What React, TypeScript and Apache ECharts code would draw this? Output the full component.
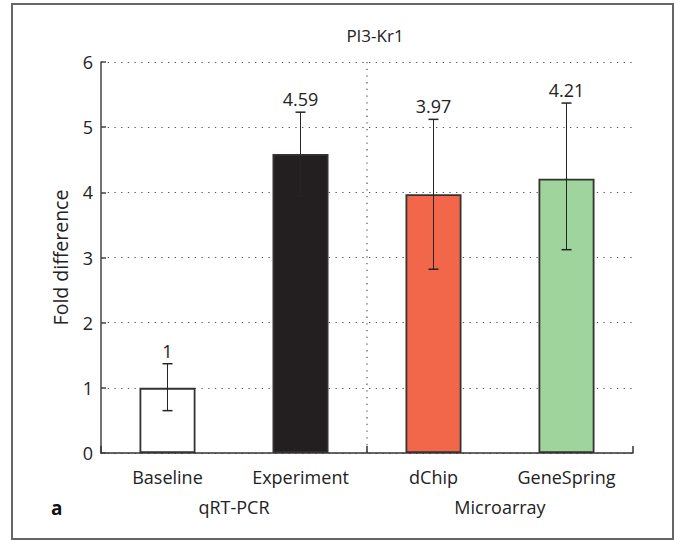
import React, { useEffect, useRef } from "react";
import * as echarts from "echarts";

const title = "PI3-Kr1";
const categories = ["Baseline", "Experiment", "dChip", "GeneSpring"];
const values = [1, 4.59, 3.97, 4.21];
const errLow = [0.65, 3.95, 2.82, 3.12];
const errHigh = [1.37, 5.23, 5.12, 5.37];
const barColors = ["#ffffff", "#231f20", "#f2674a", "#9fd49c"];
const groups = ["qRT-PCR", "Microarray"];
const groupBoundaryAfter = [1];
const yTicks = { min: 0, max: 6, interval: 1 };
const yName = "Fold difference";
const panelLetter = "a";

const FONT = "'Open Sans', 'Noto Sans', sans-serif";

export default function App() {
  const ref = useRef<HTMLDivElement>(null);
  useEffect(() => {
    document.body.style.margin = "0";
    if (!ref.current) return;
    const chart = echarts.init(ref.current, null, { renderer: "svg" });
    const option: any = {
      animation: false,
      backgroundColor: "#ffffff",
      textStyle: { fontFamily: FONT },
      title: {
        text: title,
        left: 370,
        top: 22,
        textAlign: "center",
        textStyle: { fontFamily: FONT, fontSize: 17, fontWeight: "normal", color: "#222" },
      },
      grid: { left: 101, right: 43, top: 62, bottom: 87, containLabel: false },
      xAxis: [
        {
          type: "category",
          data: categories,
          position: "bottom",
          axisLine: { show: true, lineStyle: { color: "#333", width: 1.5 } },
          axisTick: {
            show: true,
            inside: true,
            length: 7,
            interval: (i: number) => i % 2 === 0,
            lineStyle: { color: "#333", width: 1.5 },
          },
          axisLabel: { color: "#222", fontSize: 18, fontFamily: FONT, margin: 15 },
          splitLine: { show: false },
        },
        {
          type: "category",
          data: groups,
          position: "bottom",
          offset: 30,
          axisLine: { show: false },
          axisTick: { show: false },
          axisLabel: { color: "#222", fontSize: 18, fontFamily: FONT, margin: 15 },
          splitLine: { show: false },
        },
      ],
      yAxis: {
        type: "value",
        min: yTicks.min,
        max: yTicks.max,
        interval: yTicks.interval,
        name: yName,
        nameLocation: "middle",
        nameGap: 31,
        nameTextStyle: { fontSize: 19.5, fontFamily: FONT, color: "#222" },
        axisLine: { show: true, lineStyle: { color: "#444", width: 1.5 } },
        axisTick: { show: true, inside: true, length: 5, lineStyle: { color: "#444", width: 1.5 } },
        axisLabel: { color: "#222", fontSize: 18, fontFamily: FONT, margin: 8 },
        splitLine: { show: true, lineStyle: { color: "#555", width: 1.2, type: [1.3, 5.4] } },
      },
      series: [
        {
          type: "bar",
          xAxisIndex: 0,
          barWidth: 56,
          data: values.map((v, i) => ({
            value: v,
            itemStyle: { color: barColors[i], borderColor: "#333", borderWidth: 1.8 },
          })),
          z: 2,
        },
        {
          type: "custom",
          xAxisIndex: 0,
          z: 3,
          encode: { x: 0, y: [1, 2] },
          data: categories.map((_, i) => [i, errLow[i], errHigh[i]]),
          renderItem: (params: any, api: any) => {
            const i = api.value(0);
            const lo = api.coord([i, api.value(1)]);
            const hi = api.coord([i, api.value(2)]);
            const cap = 5;
            const st = { stroke: "#242424", lineWidth: 1 };
            return {
              type: "group",
              children: [
                { type: "line", shape: { x1: hi[0], y1: hi[1], x2: lo[0], y2: lo[1] }, style: st },
                { type: "line", shape: { x1: hi[0] - cap, y1: hi[1], x2: hi[0] + cap, y2: hi[1] }, style: { ...st, lineWidth: 1.5 } },
                { type: "line", shape: { x1: lo[0] - cap, y1: lo[1], x2: lo[0] + cap, y2: lo[1] }, style: { ...st, lineWidth: 1.5 } },
                {
                  type: "text",
                  style: {
                    text: String(values[i]),
                    x: hi[0],
                    y: hi[1] - 4,
                    align: "center",
                    verticalAlign: "bottom",
                    fontSize: 18,
                    fontFamily: FONT,
                    fill: "#222",
                  },
                },
              ],
            };
          },
        },
        {
          type: "custom",
          xAxisIndex: 0,
          z: 1,
          silent: true,
          encode: { x: 0 },
          data: groupBoundaryAfter.map((b) => [b]),
          renderItem: (params: any, api: any) => {
            const b = api.value(0);
            const a = api.coord([b, 0]);
            const c = api.coord([b + 1, 0]);
            const x = (a[0] + c[0]) / 2;
            const cs = params.coordSys;
            return {
              type: "line",
              shape: { x1: x, y1: cs.y, x2: x, y2: cs.y + cs.height },
              style: { stroke: "#555", lineWidth: 1.2, lineDash: [1.3, 5.4] },
            };
          },
        },
      ],
      graphic: [
        {
          type: "rect",
          shape: { x: 12, y: 4, width: 661, height: 535 },
          style: { fill: "none", stroke: "#666", lineWidth: 2 },
          silent: true,
          z: 10,
        },
        {
          type: "text",
          left: 51,
          top: 498,
          style: { text: panelLetter, fontSize: 19, fontWeight: "bold", fontFamily: FONT, fill: "#111" },
        },
      ],
    };
    chart.setOption(option);
    return () => chart.dispose();
  }, []);
  return <div ref={ref} style={{ width: 676, height: 540 }} />;
}
